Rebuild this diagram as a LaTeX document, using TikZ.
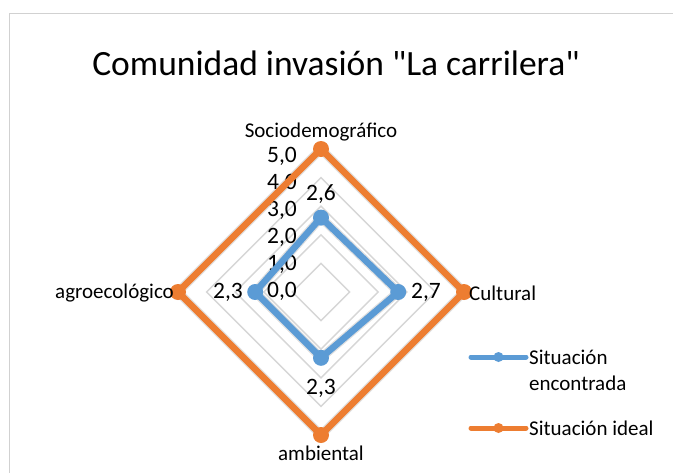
\documentclass[tikz,border=0pt]{standalone}
\usepackage{fontspec}
\setmainfont{Carlito}
\usetikzlibrary{calc}
\begin{document}
\begin{tikzpicture}[x=1pt,y=-1pt,
  gridline/.style={draw=black!16,line width=1.4pt},
  serieline/.style={line width=6.5pt,line join=miter},
  shadowline/.style={line width=9pt,draw=black,opacity=0.12,line join=miter},
  bmark/.style={circle,fill=blueS,inner sep=0pt,minimum size=16pt},
  omark/.style={circle,fill=orangeS,inner sep=0pt,minimum size=16pt},
  lbl/.style={font=\fontsize{21}{25}\selectfont,inner sep=0pt},
  num/.style={font=\fontsize{23.5}{28}\selectfont,inner sep=0pt},
  ttl/.style={font=\fontsize{35.5}{42}\selectfont,inner sep=0pt}]
\definecolor{blueS}{HTML}{5B9BD5}
\definecolor{orangeS}{HTML}{ED7D31}
\useasboundingbox (0,0) rectangle (673,472);
\clip (0,0) rectangle (673,472);
\fill[white] (0,0) rectangle (673,472);
\coordinate (fr1) at (9.5,480);
\coordinate (fr2) at (9.5,13);
\coordinate (fr3) at (690,13);
\draw[black!18,line width=1pt] (fr1) -- (fr2) -- (fr3);
% title
\node[ttl,anchor=base] (title) at (336,75) {Comunidad invasión \textquotedbl La carrilera\textquotedbl};
% grid
\coordinate (C) at (321,292);
\foreach \k in {1,...,5}{
  \draw[gridline] ($(C)+(0,-28.6*\k)$) -- ($(C)+(28.6*\k,0)$) -- ($(C)+(0,28.6*\k)$) -- ($(C)+(-28.6*\k,0)$) -- cycle;
}
% value axis labels
\foreach \k in {0,...,5}{
  \node[num,anchor=east] (v\k) at (297,{291-27*\k}) {\k,0};
}
% series coordinates
\coordinate (b1) at (321,217.6);
\coordinate (b2) at (398.2,292);
\coordinate (b3) at (321,357.8);
\coordinate (b4) at (255.2,292);
\coordinate (o1) at (321,149);
\coordinate (o2) at (464,292);
\coordinate (o3) at (321,435);
\coordinate (o4) at (178,292);
% shadows
\begin{scope}[shift={(2.5,3)}]
\draw[shadowline] (o1) -- (o2) -- (o3) -- (o4) -- cycle;
\draw[shadowline] (b1) -- (b2) -- (b3) -- (b4) -- cycle;
\end{scope}
% series lines
\draw[serieline,draw=orangeS] (o1) -- (o2) -- (o3) -- (o4) -- cycle;
\draw[serieline,draw=blueS] (b1) -- (b2) -- (b3) -- (b4) -- cycle;
% markers
\foreach \i in {1,...,4}{
  \node[omark] (mo\i) at (o\i) {};
  \node[bmark] (mb\i) at (b\i) {};
}
% data labels
\node[num] (d1) at (321,194) {2,6};
\node[num] (d2) at (426,292) {2,7};
\node[num] (d3) at (321,388) {2,3};
\node[num] (d4) at (228,292) {2,3};
% category labels
\node[lbl] (c1) at (321,132) {Sociodemográfico};
\node[lbl,anchor=west] (c2) at (469,293) {Cultural};
\node[lbl] (c3) at (321,453) {ambiental};
\node[lbl,anchor=east] (c4) at (174,293) {agroecológico};
% legend
\coordinate (la1) at (471,357);
\coordinate (la2) at (526,357);
\coordinate (lb1) at (471,428);
\coordinate (lb2) at (526,428);
\draw[blueS,line width=5pt,line cap=round] (la1) -- (la2);
\node[circle,fill=blueS,inner sep=0pt,minimum size=10pt] (lma) at ($(la1)!0.5!(la2)$) {};
\draw[orangeS,line width=5pt,line cap=round] (lb1) -- (lb2);
\node[circle,fill=orangeS,inner sep=0pt,minimum size=10pt] (lmb) at ($(lb1)!0.5!(lb2)$) {};
\node[lbl,anchor=west,align=left,font=\fontsize{21}{26}\selectfont] (lta) at (529,370) {Situación\\encontrada};
\node[lbl,anchor=west] (ltb) at (529,428) {Situación ideal};
\end{tikzpicture}
\end{document}
